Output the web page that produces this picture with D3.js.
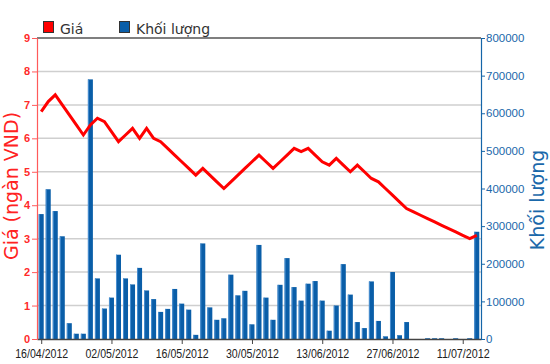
<!DOCTYPE html>
<html>
<head>
	<meta charset="utf-8">
	<script src="https://d3js.org/d3.v7.min.js"></script>
	<style>
		body { margin: 0; background: white; }
	</style>
</head>
<body>

	<script>

		var width  = 550;
		var height = 364;

		/*//////////////////////////////////////////////////////////////////////
		//                                DATA                                //
		//////////////////////////////////////////////////////////////////////*/

		// trading sessions (one bar / one line point each)
		var dates = [
			"16/04/2012", "17/04/2012", "18/04/2012", "19/04/2012", "20/04/2012",
			"23/04/2012", "24/04/2012", "25/04/2012", "26/04/2012", "27/04/2012",
			"02/05/2012", "03/05/2012", "04/05/2012", "07/05/2012", "08/05/2012",
			"09/05/2012", "10/05/2012", "11/05/2012", "14/05/2012", "15/05/2012",
			"16/05/2012", "17/05/2012", "18/05/2012", "21/05/2012", "22/05/2012",
			"23/05/2012", "24/05/2012", "25/05/2012", "28/05/2012", "29/05/2012",
			"30/05/2012", "31/05/2012", "01/06/2012", "04/06/2012", "05/06/2012",
			"06/06/2012", "07/06/2012", "08/06/2012", "11/06/2012", "12/06/2012",
			"13/06/2012", "14/06/2012", "15/06/2012", "18/06/2012", "19/06/2012",
			"20/06/2012", "21/06/2012", "22/06/2012", "25/06/2012", "26/06/2012",
			"27/06/2012", "28/06/2012", "29/06/2012", "02/07/2012", "03/07/2012",
			"04/07/2012", "05/07/2012", "06/07/2012", "09/07/2012", "10/07/2012",
			"11/07/2012", "12/07/2012", "13/07/2012"
		];

		// price, thousand VND
		var prices = [
			6.8, 7.1, 7.3, 7.0, 6.7, 6.4, 6.1, 6.4, 6.6, 6.5,
			6.2, 5.9, 6.1, 6.3, 6.0, 6.3, 6.0, 5.9, 5.7, 5.5,
			5.3, 5.1, 4.9, 5.1, 4.9, 4.7, 4.5, 4.7, 4.9, 5.1,
			5.3, 5.5, 5.3, 5.1, 5.3, 5.5, 5.7, 5.6, 5.7, 5.5,
			5.3, 5.2, 5.4, 5.2, 5.0, 5.2, 5.0, 4.8, 4.7, 4.5,
			4.3, 4.1, 3.9, 3.8, 3.7, 3.6, 3.5, 3.4, 3.3, 3.2,
			3.1, 3.0, 3.1
		];

		// traded volume, shares
		var volumes = [
			332000, 398000, 340000, 273000, 42000, 14000, 14000, 690000, 161000, 81000,
			110000, 224000, 161000, 145000, 189000, 129000, 106000, 72000, 80000, 133000,
			94000, 78000, 11000, 254000, 84000, 51000, 55000, 171000, 116000, 128000,
			39000, 250000, 110000, 51000, 144000, 215000, 138000, 102000, 147000, 154000,
			102000, 22000, 89000, 199000, 118000, 45000, 29000, 153000, 48000, 7000,
			178000, 10000, 45000, 0, 0, 2000, 2000, 2000, 0, 2000,
			0, 2000, 285000
		];

		var priceTicks  = [0, 1, 2, 3, 4, 5, 6, 7, 8, 9];
		var volumeTicks = [0, 100000, 200000, 300000, 400000, 500000, 600000, 700000, 800000];

		var legendLabels = ["Giá", "Khối lượng"];
		var priceTitle   = "Giá (ngàn VND)";
		var volumeTitle  = "Khối lượng";

		/*//////////////////////////////////////////////////////////////////////
		//                               LAYOUT                               //
		//////////////////////////////////////////////////////////////////////*/

		var plot = { left: 37, right: 481, top: 38, bottom: 339 };

		var price_color  = "#ff0000";
		var volume_color = "#0a5ea8";
		var grid_color   = "#cfcfcf";
		var text_font    = "'Liberation Sans', Arial, sans-serif";
		var title_font   = "'DejaVu Sans', Verdana, sans-serif";

		var svg = d3.select("body").append("svg")
			.attr("width", width)
			.attr("height", height)
			.style("background-color", "white");

		var x = d3.scalePoint()
			.domain(dates)
			.range([plot.left, plot.right])
			.padding(0.6);

		var yPrice = d3.scaleLinear()
			.domain([0, 9])
			.range([plot.bottom, plot.top]);

		var yVolume = d3.scaleLinear()
			.domain([0, 800000])
			.range([plot.bottom, plot.top]);

		var bar_width = 5;

		// horizontal grid lines (top one is the frame)
		svg.append("g").selectAll("line")
			.data(priceTicks.filter(function(d) { return d > 0; }))
			.enter().append("line")
			.attr("x1", plot.left)
			.attr("x2", plot.right)
			.attr("y1", function(d) { return yPrice(d); })
			.attr("y2", function(d) { return yPrice(d); })
			.attr("stroke", function(d) { return d === 9 ? "#555" : grid_color; })
			.attr("stroke-width", 1.5);

		// volume bars
		var bars = svg.append("g");

		bars.selectAll("rect.bar")
			.data(volumes)
			.enter().append("rect")
			.attr("class", "bar")
			.attr("x", function(d, i) { return x(dates[i]) - bar_width / 2; })
			.attr("y", function(d) { return yVolume(d); })
			.attr("width", bar_width)
			.attr("height", function(d) { return plot.bottom - yVolume(d); })
			.attr("fill", volume_color);

		// light left edge on each bar
		bars.selectAll("rect.edge")
			.data(volumes)
			.enter().append("rect")
			.attr("class", "edge")
			.attr("x", function(d, i) { return x(dates[i]) - bar_width / 2; })
			.attr("y", function(d) { return yVolume(d); })
			.attr("width", 1)
			.attr("height", function(d) { return plot.bottom - yVolume(d); })
			.attr("fill", "#4a8fd0");

		// price line
		var line = d3.line()
			.x(function(d, i) { return x(dates[i]); })
			.y(function(d) { return yPrice(d); });

		svg.append("path")
			.datum(prices)
			.attr("d", line)
			.attr("fill", "none")
			.attr("stroke", price_color)
			.attr("stroke-width", 3);

		/*//////////////////////////////////////////////////////////////////////
		//                                AXES                                //
		//////////////////////////////////////////////////////////////////////*/

		var xAxis = svg.append("g")
			.attr("transform", "translate(0," + plot.bottom + ")")
			.call(d3.axisBottom(x)
				.tickValues(dates.filter(function(d, i) { return i % 10 === 0; }))
				.tickSize(5)
				.tickSizeOuter(0)
				.tickPadding(5));

		xAxis.select(".domain").attr("stroke", "#444").attr("stroke-width", 1.5);
		xAxis.selectAll(".tick line").attr("stroke", "#444");
		xAxis.selectAll("text")
			.attr("fill", "#222")
			.style("font-family", text_font)
			.style("font-size", "13px")
			.attr("textLength", 53)
			.attr("lengthAdjust", "spacingAndGlyphs");

		var leftAxis = svg.append("g")
			.attr("transform", "translate(" + plot.left + ",0)")
			.call(d3.axisLeft(yPrice)
				.tickValues(priceTicks)
				.tickSize(5)
				.tickSizeOuter(0)
				.tickPadding(2));

		leftAxis.select(".domain").attr("stroke", "#ff5a5a").attr("stroke-width", 1.2);
		leftAxis.selectAll(".tick line").attr("stroke", "#ff5a5a");
		leftAxis.selectAll("text")
			.attr("fill", "#ff2a2a")
			.style("font-family", text_font)
			.style("font-size", "11px")
			.style("font-weight", "bold");

		var rightAxis = svg.append("g")
			.attr("transform", "translate(" + plot.right + ",0)")
			.call(d3.axisRight(yVolume)
				.tickValues(volumeTicks)
				.tickFormat(d3.format("d"))
				.tickSize(4)
				.tickSizeOuter(0)
				.tickPadding(1));

		rightAxis.select(".domain").attr("stroke", "#1565a8").attr("stroke-width", 1.2);
		rightAxis.selectAll(".tick line").attr("stroke", "#1565a8");
		rightAxis.selectAll("text")
			.attr("fill", "#1a68aa")
			.style("font-family", text_font)
			.style("font-size", "11.5px");

		// axis titles
		svg.append("text")
			.attr("transform", "translate(18,186) rotate(-90)")
			.attr("text-anchor", "middle")
			.attr("fill", "#ff2222")
			.style("font-family", title_font)
			.style("font-size", "19px")
			.text(priceTitle);

		svg.append("text")
			.attr("transform", "translate(544,200) rotate(-90)")
			.attr("text-anchor", "middle")
			.attr("fill", "#1a68aa")
			.style("font-family", title_font)
			.style("font-size", "19px")
			.text(volumeTitle);

		/*//////////////////////////////////////////////////////////////////////
		//                               LEGEND                               //
		//////////////////////////////////////////////////////////////////////*/

		var legendColors = [price_color, volume_color];
		var legendX      = [43.5, 119.5];

		var legend = svg.append("g").selectAll("g")
			.data(legendLabels)
			.enter().append("g")
			.attr("transform", function(d, i) { return "translate(" + legendX[i] + ",21.5)"; });

		legend.append("rect")
			.attr("width", 10)
			.attr("height", 11)
			.attr("fill", function(d, i) { return legendColors[i]; })
			.attr("stroke", "#333")
			.attr("stroke-width", 1);

		legend.append("text")
			.attr("x", 16.5)
			.attr("y", 12.5)
			.attr("fill", "#333")
			.style("font-family", title_font)
			.style("font-size", "14px")
			.text(function(d) { return d; });

	</script>
</body>
</html>
